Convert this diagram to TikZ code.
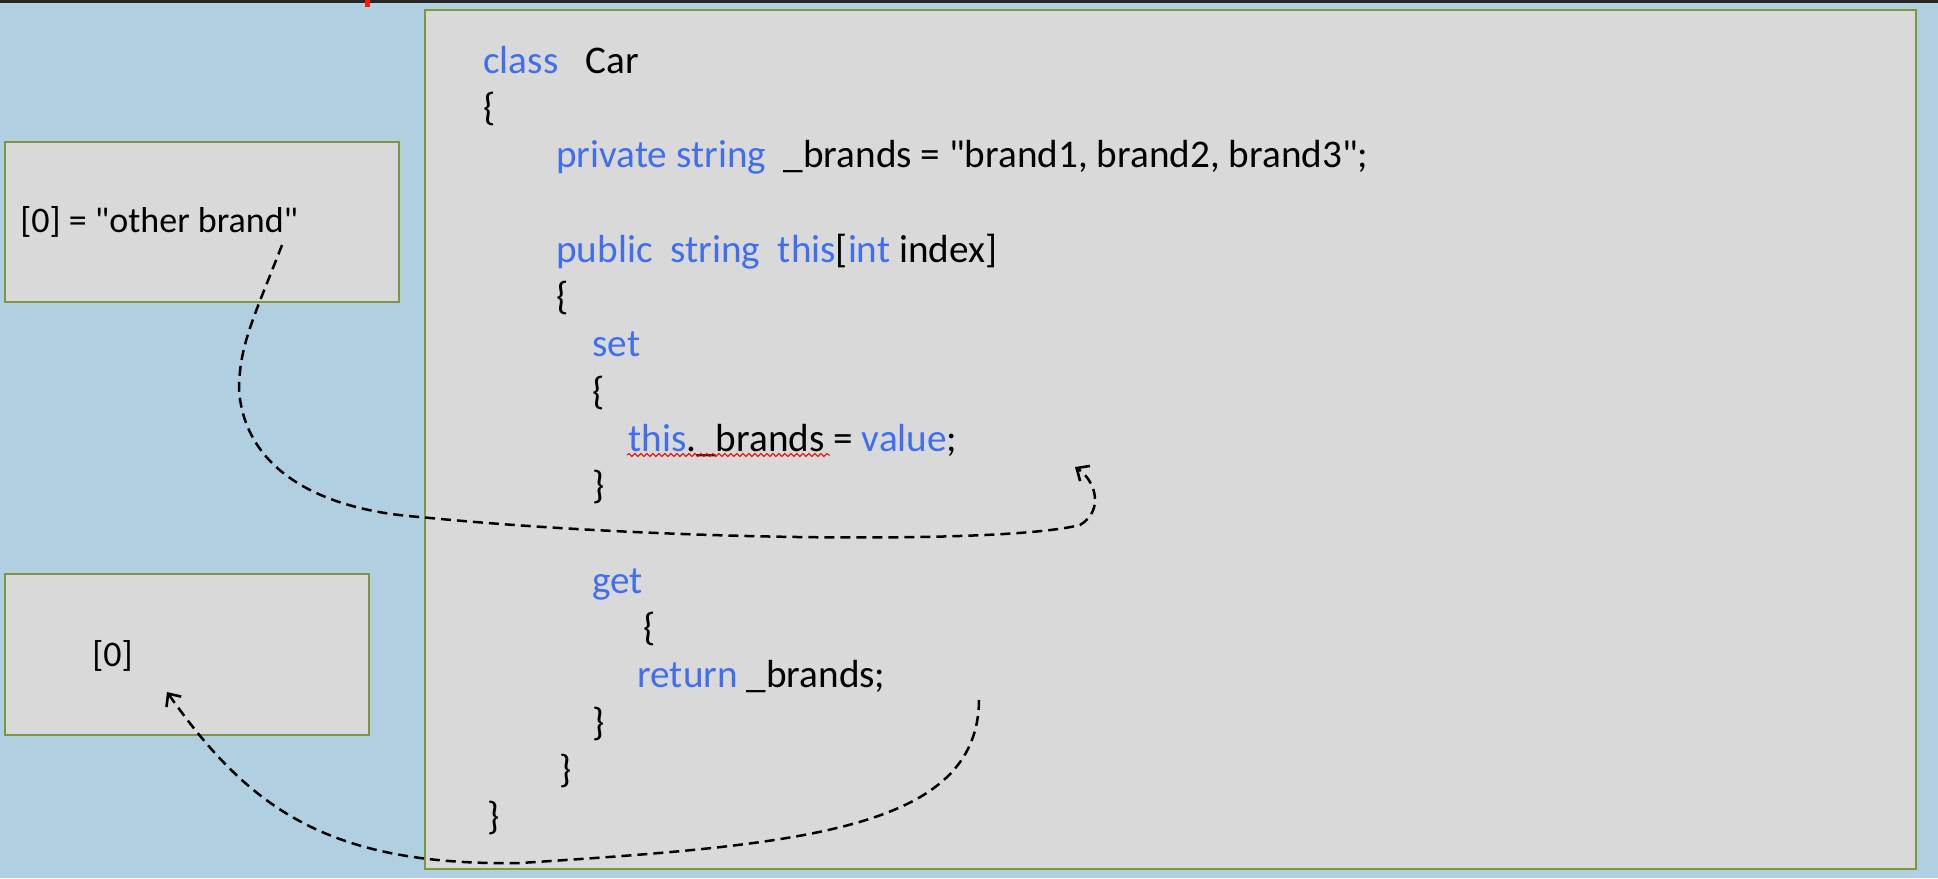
\documentclass[tikz,border=0pt]{standalone}
\usepackage{fontspec}
\setmainfont{Carlito}
\usetikzlibrary{decorations.pathmorphing,arrows.meta}
\definecolor{slidebg}{RGB}{176,208,226}
\definecolor{boxfill}{RGB}{217,217,217}
\definecolor{boxline}{RGB}{128,150,60}
\definecolor{kwblue}{RGB}{64,110,240}
\newcommand{\kwd}[1]{\textcolor{kwblue}{#1}}
\newcommand{\dq}{\textquotedbl}

\begin{document}
\begin{tikzpicture}[x=0.5pt,y=-0.5pt,
	panel/.style={draw=boxline,fill=boxfill,line width=1pt,anchor=north west,inner sep=0pt},
	codeline/.style={anchor=west,inner sep=0pt,font=\fontsize{19.6}{23.5}\selectfont,text height=14pt,text depth=4pt},
	note/.style={anchor=west,inner sep=0pt,font=\fontsize{18}{21.6}\selectfont},
	flow/.style={->,>={Straight Barb[length=5pt,width=9pt,line width=1.3pt]},line width=1.25pt,dash pattern=on 5pt off 3pt}]
\useasboundingbox (0,0) rectangle (1938,878);
\fill [slidebg] (0,0) rectangle (1938,878);
\fill [black!85] (0,0) rectangle (1938,3);
\fill [red!80!orange] (365,0) rectangle (370,7);

\node [panel,minimum width=745.5pt,minimum height=429.5pt] (carbox) at (424,9) {};
\node [panel,minimum width=197pt,minimum height=80pt] (setbox) at (4,141) {};
\node [panel,minimum width=182pt,minimum height=80.5pt] (getbox) at (4,573) {};

\node [note] (setval) at (20,222) {[0] = \dq other brand\dq};
\node [note] (getval) at (92,656) {[0]};

\foreach \i / \x / \txt in {
								0/483/{\kwd{class}\hspace{0.7em}Car},
								1/483/{\{},
								2/556/{\kwd{private string}\ \ \_brands = \dq brand1, brand2, brand3\dq;},
								4/556/{\kwd{public}\ \ \kwd{string}\ \ \kwd{this}[\kwd{int} index]},
								5/556/{\{},
								6/592/{\kwd{set}},
								7/592/{\{},
								8/628/{\kwd{this}.\_brands = \kwd{value};},
								9/592/{\}},
								11/592/{\kwd{get}},
								12/643/{\{},
								13/637/{\kwd{return} \_brands;},
								14/592/{\}},
								15/559/{\}},
								16/487/{\}}%
										}
	{%
		\node [codeline] (line\i) at (\x,63+47.3*\i) {\txt};
	}

% spell-check squiggle
\draw [red,line width=0.5pt,decorate,decoration={snake,amplitude=0.8pt,segment length=3pt}] (627,455) -- (830,455);

\coordinate (setsrc) at (282,245);
\coordinate (settip) at (1075,467);
\coordinate (getsrc) at (979,700);
\coordinate (gettip) at (167,692);

\draw [flow] (setsrc) .. controls (255,315) and (239,345) .. (239,390) .. controls (245,470) and (320,510) .. (420,517) .. controls (650,540) and (1000,545) .. (1080,525) .. controls (1105,510) and (1095,480) .. (settip);
\draw [flow] (getsrc) .. controls (978,830) and (800,845) .. (520,863) .. controls (330,866) and (250,810) .. (gettip);

\end{tikzpicture}
\end{document}
